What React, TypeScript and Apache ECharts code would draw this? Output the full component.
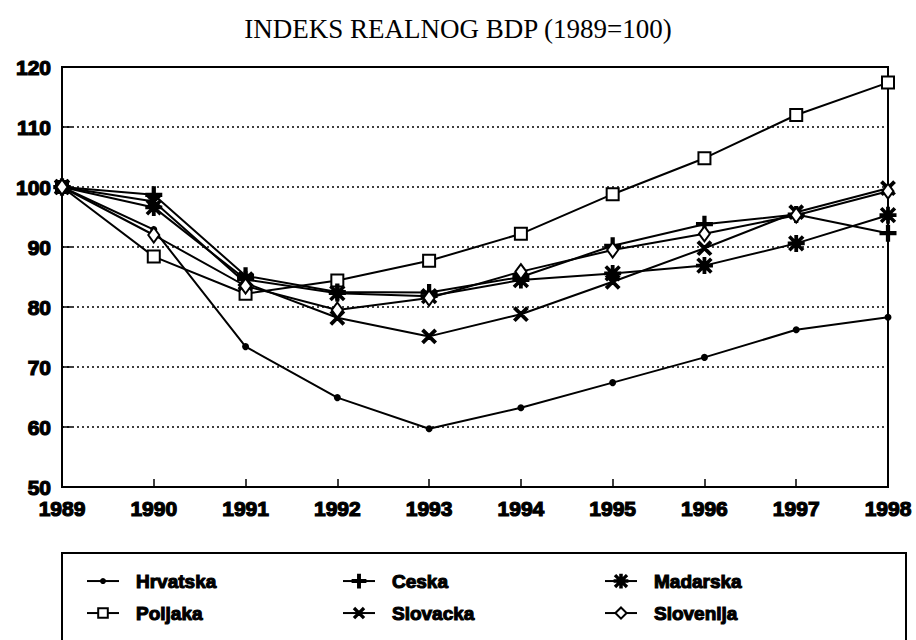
import React, { useEffect, useRef } from "react";
import * as echarts from "echarts";

const years = ["1989", "1990", "1991", "1992", "1993", "1994", "1995", "1996", "1997", "1998"];
const hrvatska = [100, 92.9, 73.4, 64.9, 59.7, 63.2, 67.4, 71.6, 76.2, 78.3];
const poljaka = [100, 88.4, 82.2, 84.4, 87.7, 92.2, 98.8, 104.8, 112.0, 117.4];
const ceska = [100, 98.7, 85.2, 82.5, 82.4, 85.0, 90.2, 93.8, 95.4, 92.3];
const slovacka = [100, 97.6, 84.0, 78.2, 75.1, 78.8, 84.2, 89.8, 95.8, 99.8];
const madarska = [100, 96.6, 84.6, 82.3, 81.8, 84.5, 85.6, 86.9, 90.6, 95.3];
const slovenija = [100, 92.0, 83.5, 79.5, 81.5, 85.9, 89.5, 92.2, 95.3, 99.3];

const PLUS = "path://M8.5,0H11.5V20H8.5Z M0,8.5H20V11.5H0Z";
const CROSS = "path://M0,2L2,0L20,18L18,20Z M18,0L20,2L2,20L0,18Z";
const STAR =
  "path://M8.8,0H11.2V20H8.8Z M0,8.8H20V11.2H0Z M1,2.5L2.5,1L19,17.5L17.5,19Z M17.5,1L19,2.5L2.5,19L1,17.5Z";

const AXIS_FONT = "Liberation Sans";

export default function App() {
  const ref = useRef<HTMLDivElement>(null);
  useEffect(() => {
    if (!ref.current) return;
    const chart = echarts.init(ref.current, undefined, { renderer: "svg" });
    const mk = (name: string, data: number[], symbol: string, size: number | number[]) => ({
      name,
      type: "line",
      data,
      symbol,
      symbolSize: size,
      showSymbol: true,
      lineStyle: { color: "#000", width: 2 },
      itemStyle: { color: "#000", borderColor: "#000", borderWidth: 2 },
      z: 3,
    });
    const mkLegend = (name: string, left: number, cy: number, h: number) => ({
      orient: "horizontal",
      left,
      top: cy - 10,
      itemWidth: 32,
      itemHeight: h,
      selectedMode: false,
      padding: 0,
      data: [name],
      textStyle: {
        fontFamily: AXIS_FONT,
        fontWeight: "bold",
        fontSize: 19,
        lineHeight: 20,
        color: "#000",
        textBorderColor: "#000",
        textBorderWidth: 1.1,
        padding: [0, 0, 0, 12],
      },
    });
    const row1 = 581;
    const row2 = 613;
    chart.setOption({
      animation: false,
      backgroundColor: "#fff",
      title: {
        text: "INDEKS REALNOG BDP (1989=100)",
        left: "center",
        top: 10,
        textStyle: {
          fontFamily: "Liberation Serif",
          fontWeight: "normal",
          fontSize: 27,
          color: "#000",
        },
      },
      grid: {
        left: 62,
        right: 28,
        top: 67,
        bottom: 153,
        show: true,
        borderColor: "#000",
        borderWidth: 2,
        backgroundColor: "transparent",
      },
      xAxis: {
        type: "category",
        data: years,
        boundaryGap: false,
        axisLine: { lineStyle: { color: "#000", width: 2 } },
        axisTick: { inside: true, length: 8, lineStyle: { color: "#000", width: 1.5 } },
        axisLabel: {
          color: "#000",
          fontFamily: AXIS_FONT,
          fontWeight: "bold",
          fontSize: 21,
          lineHeight: 18,
          margin: 12,
          textBorderColor: "#000",
          textBorderWidth: 1.2,
        },
        splitLine: { show: false },
      },
      yAxis: {
        type: "value",
        min: 50,
        max: 120,
        interval: 10,
        axisLine: { show: true, lineStyle: { color: "#000", width: 2 } },
        axisTick: { show: true, inside: true, length: 10, lineStyle: { color: "#000", width: 1.5 } },
        axisLabel: {
          color: "#000",
          fontFamily: AXIS_FONT,
          fontWeight: "bold",
          fontSize: 21,
          lineHeight: 16,
          margin: 11,
          textBorderColor: "#000",
          textBorderWidth: 1.2,
        },
        splitLine: { show: true, lineStyle: { color: "#000", type: [2, 3], width: 1.5 } },
      },
      legend: [
        mkLegend("Hrvatska", 86, row1, 5),
        mkLegend("Poljaka", 86, row2, 12),
        mkLegend("Ceska", 342, row1, 16),
        mkLegend("Slovacka", 342, row2, 12),
        mkLegend("Madarska", 604, row1, 16),
        mkLegend("Slovenija", 604, row2, 14),
      ],
      graphic: [
        {
          type: "rect",
          shape: { x: 62, y: 553, width: 844, height: 120 },
          style: { fill: "none", stroke: "#000", lineWidth: 2 },
          silent: true,
        },
      ],
      series: [
        mk("Hrvatska", hrvatska, "circle", 5),
        mk("Poljaka", poljaka, "emptyRect", 12),
        mk("Ceska", ceska, PLUS, 15),
        mk("Slovacka", slovacka, CROSS, 13),
        mk("Madarska", madarska, STAR, 15),
        mk("Slovenija", slovenija, "emptyDiamond", [11, 15]),
      ],
    });
    return () => chart.dispose();
  }, []);
  return (
    <div
      ref={ref}
      style={{ position: "fixed", left: 0, top: 0, width: 916, height: 640, background: "#fff" }}
    />
  );
}
